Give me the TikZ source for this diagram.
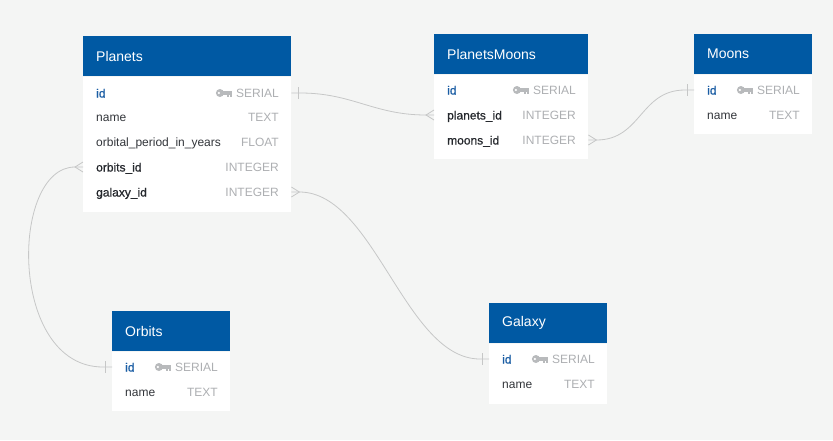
\documentclass[tikz,border=0pt]{standalone}
\usepackage{fontspec}
\setmainfont{Liberation Sans}
\newfontfamily\keyfont[FakeBold=0.6]{Liberation Sans}
\usetikzlibrary{positioning}

\definecolor{bgcol}{HTML}{F4F5F4}
\definecolor{headblue}{HTML}{0059A3}
\definecolor{idblue}{HTML}{1A5DA4}
\definecolor{fieldcol}{HTML}{33363B}
\definecolor{fkcol}{HTML}{25282D}
\definecolor{typegray}{HTML}{ADAFB2}
\definecolor{keygray}{HTML}{B8BABC}
\definecolor{linegray}{HTML}{C6C7C7}

\tikzset{
  tablehead/.style={fill=headblue, text=white, anchor=north west, minimum height=40pt,
    inner xsep=13pt, inner ysep=0pt, align=left, font=\fontsize{14}{16}\selectfont},
  tablebody/.style={fill=white, anchor=north west, inner sep=0pt},
  field/.style={anchor=west, inner sep=0pt, text height=12pt, text depth=3pt,
    text=fieldcol, font=\fontsize{12}{14}\selectfont},
  pkfield/.style={field, text=idblue, font=\fontsize{12}{14}\keyfont},
  fkfield/.style={field, text=fkcol, font=\fontsize{12}{14}\keyfont},
  coltype/.style={anchor=east, inner sep=0pt, text height=12pt, text depth=3pt,
    text=typegray, font=\fontsize{12}{14}\selectfont},
  rel/.style={draw=linegray, line width=0.8pt},
  keyicon/.pic={
    \fill[keygray] (-12,0) circle (4);
    \fill[white] (-13,0) circle (1.2);
    \fill[keygray] (-9,-1.6) rectangle (0,1.6);
    \fill[keygray] (-4.5,1.6) rectangle (-2.8,3.8);
    \fill[keygray] (-1.7,1.6) rectangle (0,3.8);
  }
}

\begin{document}
\begin{tikzpicture}[x=1pt,y=-1pt]

\fill[bgcol] (0,0) rectangle (833,440);
\useasboundingbox (0,0) rectangle (833,440);

% Planets
\node[tablehead, text width=182pt] (planets-head) at (83,36) {Planets};
\node[tablebody, minimum width=208pt, minimum height=135pt] (planets-body) at (planets-head.south west) {};
\node[pkfield] (planets-id) at (96,93) {id};
\node[coltype] (planets-id-t) at (279,93) {SERIAL};
\pic at ([xshift=-4pt]planets-id-t.west) {keyicon};
\node[field] (planets-name) at (96,117) {name};
\node[coltype] (planets-name-t) at (279,117) {TEXT};
\node[field] (planets-period) at (96,142) {orbital\_period\_in\_years};
\node[coltype] (planets-period-t) at (279,142) {FLOAT};
\node[fkfield] (planets-orbits) at (96,167) {orbits\_id};
\node[coltype] (planets-orbits-t) at (279,167) {INTEGER};
\node[fkfield] (planets-galaxy) at (96,192) {galaxy\_id};
\node[coltype] (planets-galaxy-t) at (279,192) {INTEGER};

% PlanetsMoons
\node[tablehead, text width=128pt] (pm-head) at (434,34) {PlanetsMoons};
\node[tablebody, minimum width=154pt, minimum height=84pt] (pm-body) at (pm-head.south west) {};
\node[pkfield] (pm-id) at (447,90) {id};
\node[coltype] (pm-id-t) at (576,90) {SERIAL};
\pic at ([xshift=-4pt]pm-id-t.west) {keyicon};
\node[fkfield] (pm-planets) at (447,115) {planets\_id};
\node[coltype] (pm-planets-t) at (576,115) {INTEGER};
\node[fkfield] (pm-moons) at (447,140) {moons\_id};
\node[coltype] (pm-moons-t) at (576,140) {INTEGER};

% Moons
\node[tablehead, text width=92pt] (moons-head) at (694,34) {Moons};
\node[tablebody, minimum width=118pt, minimum height=59pt] (moons-body) at (moons-head.south west) {};
\node[pkfield] (moons-id) at (707,90) {id};
\node[coltype] (moons-id-t) at (800,90) {SERIAL};
\pic at ([xshift=-4pt]moons-id-t.west) {keyicon};
\node[field] (moons-name) at (707,115) {name};
\node[coltype] (moons-name-t) at (800,115) {TEXT};

% Orbits
\node[tablehead, text width=92pt] (orbits-head) at (112,311) {Orbits};
\node[tablebody, minimum width=118pt, minimum height=59pt] (orbits-body) at (orbits-head.south west) {};
\node[pkfield] (orbits-id) at (125,367) {id};
\node[coltype] (orbits-id-t) at (218,367) {SERIAL};
\pic at ([xshift=-4pt]orbits-id-t.west) {keyicon};
\node[field] (orbits-name) at (125,392) {name};
\node[coltype] (orbits-name-t) at (218,392) {TEXT};

% Galaxy
\node[tablehead, text width=92pt] (galaxy-head) at (489,303) {Galaxy};
\node[tablebody, minimum width=118pt, minimum height=60pt] (galaxy-body) at (galaxy-head.south west) {};
\node[pkfield] (galaxy-id) at (502,359) {id};
\node[coltype] (galaxy-id-t) at (595,359) {SERIAL};
\pic at ([xshift=-4pt]galaxy-id-t.west) {keyicon};
\node[field] (galaxy-name) at (502,384) {name};
\node[coltype] (galaxy-name-t) at (595,384) {TEXT};

% end points of the relations
\coordinate (planets-id-e) at (planets-body.east |- planets-id);
\coordinate (planets-orbits-e) at (planets-body.west |- planets-orbits);
\coordinate (planets-galaxy-e) at (planets-body.east |- planets-galaxy);
\coordinate (pm-planets-e) at (pm-body.west |- pm-planets);
\coordinate (pm-moons-e) at (pm-body.east |- pm-moons);
\coordinate (moons-id-e) at (moons-body.west |- moons-id);
\coordinate (orbits-id-e) at (orbits-body.west |- orbits-id);
\coordinate (galaxy-id-e) at (galaxy-body.west |- galaxy-id);

% Planets.id -- PlanetsMoons.planets_id
\draw[rel] (planets-id-e) -- ([xshift=9pt]planets-id-e) .. controls +(52,0) and +(-52,0) .. ([xshift=-8pt]pm-planets-e) -- (pm-planets-e);
\draw[rel] ([xshift=7pt,yshift=6pt]planets-id-e) -- ([xshift=7pt,yshift=-6pt]planets-id-e);
\draw[rel] ([yshift=5pt]pm-planets-e) -- ([xshift=-8pt]pm-planets-e) -- ([yshift=-5pt]pm-planets-e);

% PlanetsMoons.moons_id -- Moons.id
\draw[rel] (pm-moons-e) -- ([xshift=8pt]pm-moons-e) .. controls +(45,0) and +(-45,0) .. ([xshift=-9pt]moons-id-e) -- (moons-id-e);
\draw[rel] ([yshift=5pt]pm-moons-e) -- ([xshift=8pt]pm-moons-e) -- ([yshift=-5pt]pm-moons-e);
\draw[rel] ([xshift=-7pt,yshift=6pt]moons-id-e) -- ([xshift=-7pt,yshift=-6pt]moons-id-e);

% Planets.orbits_id -- Orbits.id
\draw[rel] (planets-orbits-e) -- ([xshift=-8pt]planets-orbits-e) .. controls +(-65,0) and +(-95,0) .. ([xshift=-9pt]orbits-id-e) -- (orbits-id-e);
\draw[rel] ([yshift=5pt]planets-orbits-e) -- ([xshift=-8pt]planets-orbits-e) -- ([yshift=-5pt]planets-orbits-e);
\draw[rel] ([xshift=-7pt,yshift=6pt]orbits-id-e) -- ([xshift=-7pt,yshift=-6pt]orbits-id-e);

% Planets.galaxy_id -- Galaxy.id
\draw[rel] (planets-galaxy-e) -- ([xshift=8pt]planets-galaxy-e) .. controls +(75,0) and +(-75,0) .. ([xshift=-9pt]galaxy-id-e) -- (galaxy-id-e);
\draw[rel] ([yshift=5pt]planets-galaxy-e) -- ([xshift=8pt]planets-galaxy-e) -- ([yshift=-5pt]planets-galaxy-e);
\draw[rel] ([xshift=-7pt,yshift=6pt]galaxy-id-e) -- ([xshift=-7pt,yshift=-6pt]galaxy-id-e);

\end{tikzpicture}
\end{document}
